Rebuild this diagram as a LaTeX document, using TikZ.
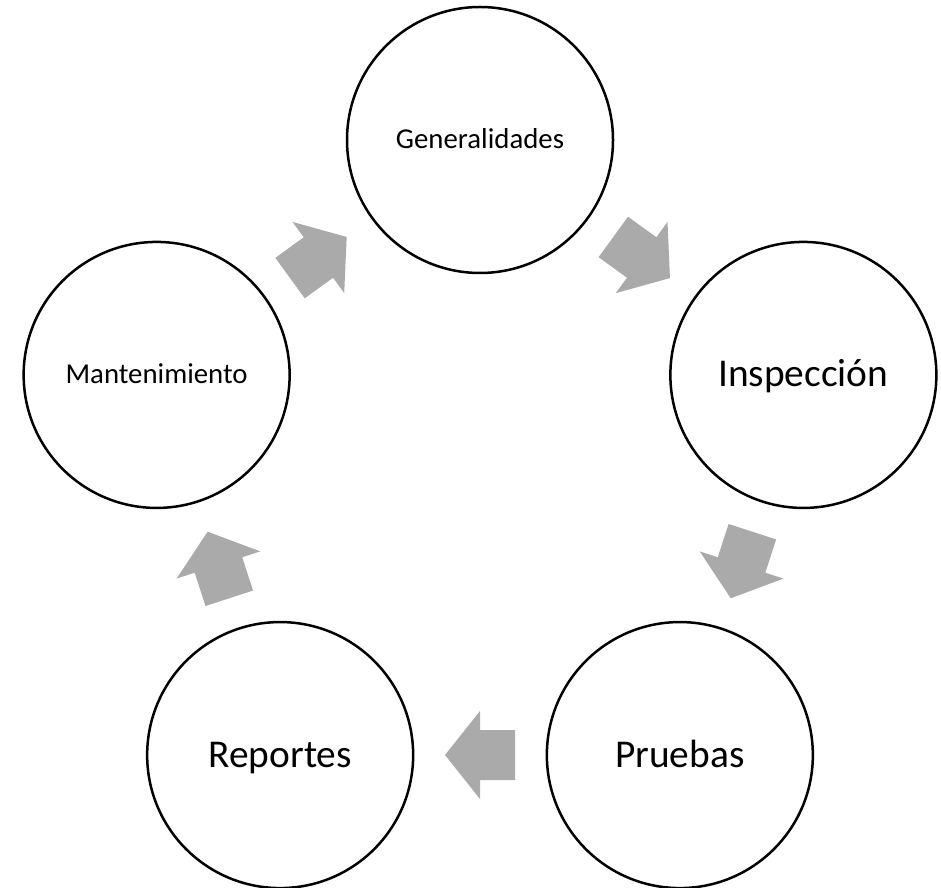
\documentclass[tikz,border=0pt]{standalone}
\usepackage{fontspec}
\setmainfont{Carlito}
\usetikzlibrary{calc}
\definecolor{arrowgray}{RGB}{170,170,170}
\tikzset{
  stage/.style={circle,draw=black,line width=2.5pt,minimum size=266pt,inner sep=0pt,fill=white},
  smalltext/.style={font=\fontsize{28.8}{34}\selectfont,text height=21pt,text depth=3pt},
  bigtext/.style={font=\fontsize{39.4}{47}\selectfont,text height=28pt,text depth=4pt},
  blockarrow/.pic={\fill[arrowgray] (-35,-25) -- (0,-25) -- (0,-44) -- (35,0) -- (0,44) -- (0,25) -- (-35,25) -- cycle;}
}
\begin{document}
\begin{tikzpicture}[x=1pt,y=1pt]
\useasboundingbox (0,0) rectangle (941,887);
\coordinate (C) at (480,407);
\node[stage,smalltext] (gen) at ($(C)+(90:340)$) {Generalidades};
\node[stage,bigtext] (insp) at ($(C)+(18:340)$) {Inspección};
\node[stage,bigtext] (prue) at ($(C)+(-54:340)$) {Pruebas};
\node[stage,bigtext] (repo) at ($(C)+(-126:340)$) {Reportes};
\node[stage,smalltext] (mant) at ($(C)+(162:340)$) {Mantenimiento};
\pic[rotate=-36] (a1) at ($(C)+(54:275)$) {blockarrow};
\pic[rotate=-108] (a2) at ($(C)+(-18:275)$) {blockarrow};
\pic[rotate=180] (a3) at ($(C)+(-90:275)$) {blockarrow};
\pic[rotate=108] (a4) at ($(C)+(-162:275)$) {blockarrow};
\pic[rotate=36] (a5) at ($(C)+(126:275)$) {blockarrow};
\end{tikzpicture}
\end{document}
